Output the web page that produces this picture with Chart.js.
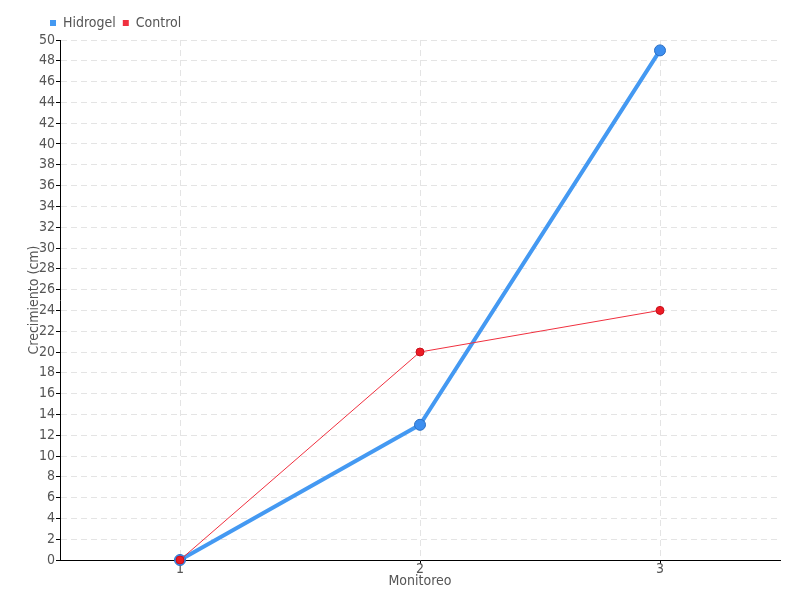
<!DOCTYPE html>
<html>
<head>
<meta charset="utf-8">
<script src="https://cdn.jsdelivr.net/npm/chart.js@4"></script>
<style>
  html, body { margin: 0; padding: 0; background: #fff; }
  #wrap { width: 800px; height: 600px; }
</style>
</head>
<body>
<div id="wrap"><canvas id="grafico"></canvas></div>
<script>
const categorias = ['1', '2', '3'];
const hidrogel = [0, 13, 49];
const control = [0, 20, 24];

const fuente = "'DejaVu Sans Condensed', 'Liberation Sans Narrow', sans-serif";
const gris = '#555';
const rejilla = '#e4e4e4';

new Chart(document.getElementById('grafico').getContext('2d'), {
    type: 'line',
    data: {
        labels: categorias,
        datasets: [
            {
                label: 'Hidrogel',
                data: hidrogel,
                order: 2,
                clip: false,
                borderColor: '#4499f2',
                backgroundColor: '#4499f2',
                borderWidth: 4,
                pointRadius: 5.5,
                pointBackgroundColor: '#3d8ff0',
                pointBorderColor: '#2b6fc4',
                pointBorderWidth: 1,
                tension: 0
            },
            {
                label: 'Control',
                data: control,
                order: 1,
                clip: false,
                borderColor: '#f0303f',
                backgroundColor: '#ee1c25',
                borderWidth: 1,
                pointRadius: 4,
                pointBackgroundColor: '#ee1c25',
                pointBorderColor: '#c8101c',
                pointBorderWidth: 1,
                tension: 0
            }
        ]
    },
    options: {
        responsive: true,
        maintainAspectRatio: false,
        animation: false,
        layout: { padding: { left: 26, right: 20, top: 9, bottom: 10 } },
        plugins: {
            legend: {
                position: 'top',
                align: 'start',
                labels: {
                    color: gris,
                    boxWidth: 6,
                    boxHeight: 6,
                    padding: 7,
                    font: { size: 14, family: fuente },
                    sort: (a, b) => a.datasetIndex - b.datasetIndex,
                    generateLabels(chart) {
                        // cuadrados sin borde
                        return Chart.defaults.plugins.legend.labels.generateLabels(chart).map(item => {
                            item.lineWidth = 0;
                            item.fillStyle = chart.data.datasets[item.datasetIndex].borderColor;
                            return item;
                        });
                    }
                }
            },
            tooltip: { enabled: false }
        },
        scales: {
            x: {
                offset: true,
                border: { color: '#000', width: 1, dash: [6, 4] },
                grid: {
                    color: rejilla,
                    tickColor: '#000',
                    tickLength: 4,
                    offset: false
                },
                ticks: { color: gris, padding: -3, font: { size: 14, family: fuente } },
                title: {
                    display: true,
                    text: 'Monitoreo',
                    color: gris,
                    padding: 0,
                    font: { size: 14, family: fuente }
                },
                afterFit(scale) { scale.height = 30; }
            },
            y: {
                min: 0,
                max: 50,
                border: { color: '#000', width: 1, dash: [6, 4] },
                grid: {
                    color: rejilla,
                    tickColor: '#000',
                    tickLength: 4
                },
                ticks: {
                    stepSize: 2,
                    autoSkip: false,
                    color: gris,
                    padding: 1,
                    font: { size: 14, family: fuente }
                },
                title: {
                    display: true,
                    text: 'Crecimiento (cm)',
                    color: gris,
                    padding: 0,
                    font: { size: 14, family: fuente }
                },
                afterFit(scale) { scale.width = 34; }
            }
        }
    },
    plugins: [{
        id: 'leyendaCorrida',
        afterLayout(chart) {
            chart.legend.left = 43;
        }
    }]
});
</script>
</body>
</html>
